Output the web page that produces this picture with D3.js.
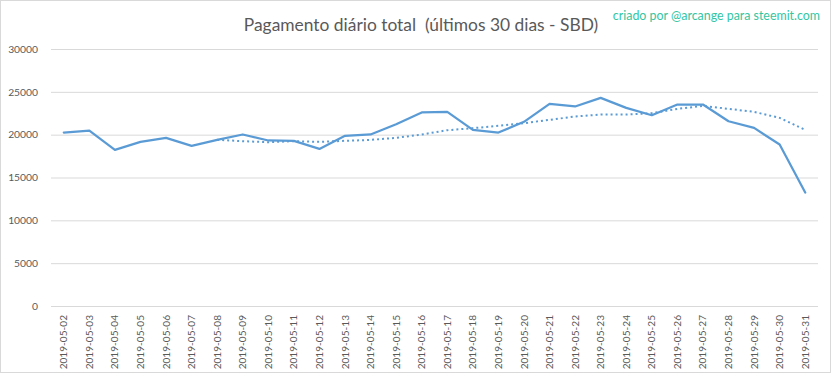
<!DOCTYPE html>
<html><head><meta charset="utf-8">
<script src="https://cdn.jsdelivr.net/npm/d3@7"></script>
<style>
html,body{margin:0;padding:0;background:#fff;}
svg{display:block;}
</style></head>
<body><svg id="chart" width="833" height="379"></svg>
<script>
const dates = ["2019-05-02","2019-05-03","2019-05-04","2019-05-05","2019-05-06","2019-05-07","2019-05-08","2019-05-09","2019-05-10","2019-05-11","2019-05-12","2019-05-13","2019-05-14","2019-05-15","2019-05-16","2019-05-17","2019-05-18","2019-05-19","2019-05-20","2019-05-21","2019-05-22","2019-05-23","2019-05-24","2019-05-25","2019-05-26","2019-05-27","2019-05-28","2019-05-29","2019-05-30","2019-05-31"];
const payout = [20250,20480,18220,19160,19630,18690,19390,20020,19320,19280,18340,19860,20020,21220,22590,22670,20560,20250,21500,23600,23290,24300,23130,22270,23520,23520,21570,20790,18850,13240];
const movingAvg = [null,null,null,null,null,null,19400,19240,19120,19240,19160,19280,19390,19630,20020,20520,20760,21030,21340,21730,22120,22350,22350,22510,23010,23360,23010,22660,21960,20560];
const yTicks = [0,5000,10000,15000,20000,25000,30000];
const title = "Pagamento diário total  (últimos 30 dias - SBD)";
const credit = "criado por @arcange para steemit.com";

const svg = d3.select("#chart");
const m = {left: 51, right: 15, top: 49, bottom: 73};
const blue = "#5b9bd5";
const font = "Lato, 'Noto Sans', sans-serif";

svg.append("rect").attr("x",0.5).attr("y",0.5).attr("width",830).attr("height",372)
  .attr("fill","#fff").attr("stroke","#d9d9d9");

const x = d3.scaleBand().domain(dates).range([m.left, 818]).paddingInner(0).paddingOuter(0);
const y = d3.scaleLinear().domain([0,30000]).range([306, 49]);

const gy = svg.append("g").attr("transform",`translate(${m.left},0)`)
  .call(d3.axisLeft(y).tickValues(yTicks).tickSize(-(818-m.left)).tickFormat(d=>d).tickPadding(13));
gy.select(".domain").remove();
gy.selectAll(".tick line").attr("stroke","#d9d9d9").attr("stroke-width",1);
gy.selectAll(".tick text").attr("fill","#595959").style("font-family",font).style("font-size","10.3px");

const gx = svg.append("g").attr("transform",`translate(0,306)`)
  .call(d3.axisBottom(x).tickSize(0).tickPadding(0));
gx.select(".domain").remove();
gx.selectAll(".tick text")
  .attr("fill","#595959").style("font-family",font).style("font-size","10.1px")
  .attr("transform","rotate(-90)")
  .attr("text-anchor","end").attr("x",-9).attr("y",0).attr("dy","0.35em");

const cx = d => x(d) + x.bandwidth()/2;

const line = d3.line().defined(d=>d[1]!=null).x(d=>cx(d[0])).y(d=>y(d[1]));
svg.append("path").datum(dates.map((d,i)=>[d,movingAvg[i]]))
  .attr("d",line).attr("fill","none").attr("stroke",blue).attr("stroke-width",2)
  .attr("stroke-dasharray","2,3").attr("stroke-linecap","butt");
svg.append("path").datum(dates.map((d,i)=>[d,payout[i]]))
  .attr("d",line).attr("fill","none").attr("stroke",blue).attr("stroke-width",2.25)
  .attr("stroke-linejoin","round").attr("stroke-linecap","round");

svg.append("text").attr("x",421).attr("y",31).attr("text-anchor","middle")
  .attr("fill","#595959").style("font-family",font).style("font-size","17.4px").style("font-weight","400")
  .style("white-space","pre").attr("xml:space","preserve").text(title);
svg.append("text").attr("x",820).attr("y",20).attr("text-anchor","end")
  .attr("fill","#33c6a2").style("font-family",font).style("font-size","12.4px")
  .text(credit);
</script></body></html>
